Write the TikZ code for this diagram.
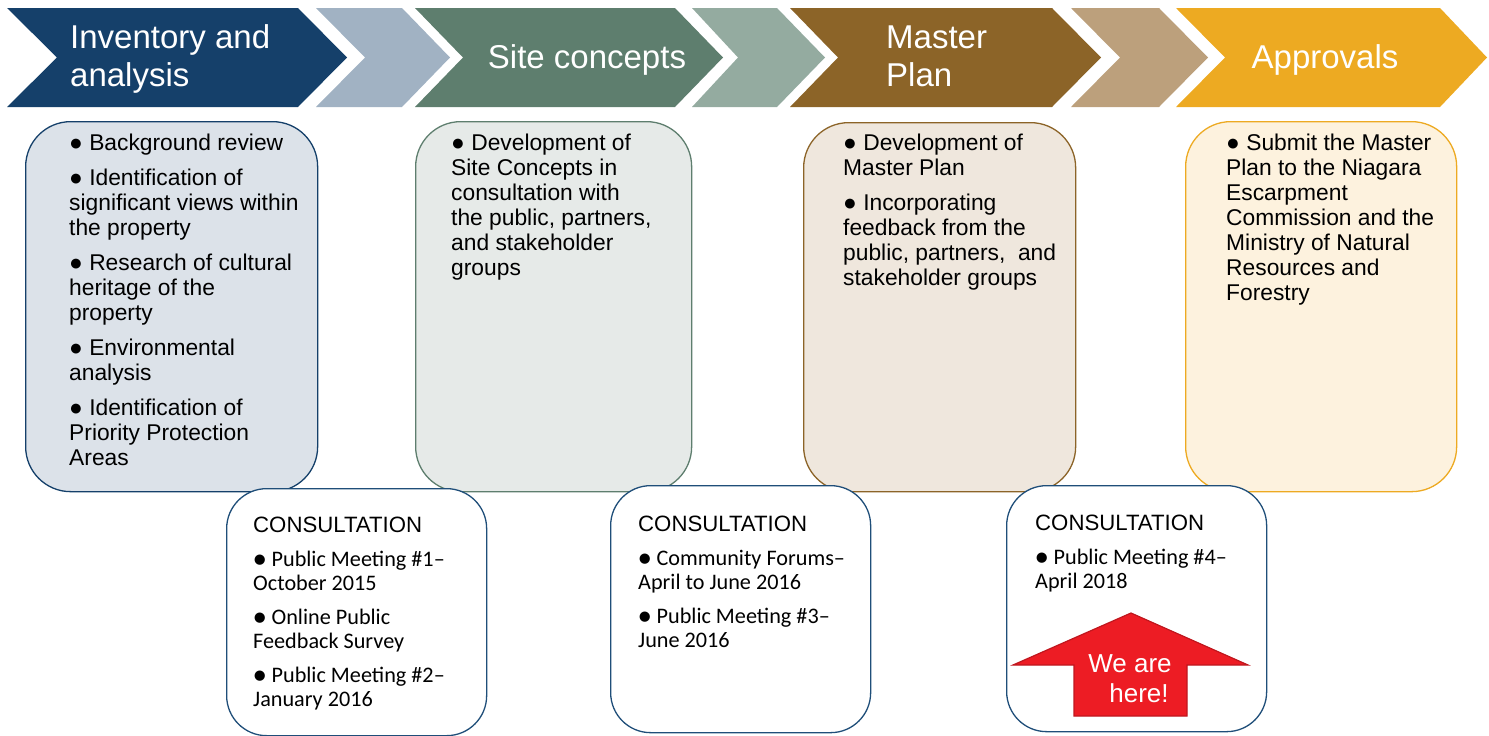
\documentclass[tikz,border=0pt]{standalone}
\usepackage{fontspec}
\setmainfont{Liberation Sans}
\newfontfamily\calib{Carlito}
\definecolor{cblue}{HTML}{15406A}
\definecolor{lblue}{HTML}{A1B2C3}
\definecolor{cgreen}{HTML}{5E7E6E}
\definecolor{lgreen}{HTML}{94ABA0}
\definecolor{cbrown}{HTML}{8C6428}
\definecolor{lbrown}{HTML}{BCA07C}
\definecolor{cgold}{HTML}{EDAA22}
\definecolor{fblue}{HTML}{DCE2E9}
\definecolor{fgreen}{HTML}{E6EAE8}
\definecolor{fbrown}{HTML}{EFE7DD}
\definecolor{fgold}{HTML}{FDF2DE}
\definecolor{conb}{HTML}{1F4E79}
\definecolor{cred}{HTML}{ED1C24}
\definecolor{dred}{HTML}{C0171E}
\begin{document}
\begin{tikzpicture}[x=1pt,y=-1pt,
  hdr/.style={inner sep=0, text=white, font=\fontsize{33}{38}\selectfont},
  bodybox/.style={rounded corners=45, line width=1.3, minimum width=#1, anchor=north west, inner sep=0},
  bodytxt/.style={anchor=north west, inner sep=0, align=left, font=\fontsize{22.8}{25}\selectfont},
  conbox/.style={draw=conb, fill=white, rounded corners=40, line width=1.3, minimum width=260, anchor=north west, inner sep=0},
  contitle/.style={anchor=base west, inner sep=0, font=\fontsize{22.2}{25}\selectfont},
  contxt/.style={anchor=north west, inner sep=0, align=left, font=\calib\fontsize{22.2}{24}\selectfont},
  heretxt/.style={inner sep=0, text=white, font=\fontsize{26}{30}\selectfont}
]
\useasboundingbox (0,0) rectangle (1489,736);
% chevrons
\fill[cblue]  (7,8) -- (298,8) -- (347,57.5) -- (298,107) -- (7,107) -- (57,57.5) -- cycle;
\fill[lblue]  (316,8) -- (402,8) -- (450,57.5) -- (402,107) -- (316,107) -- (365,57.5) -- cycle;
\fill[cgreen] (415,8) -- (675,8) -- (723,57.5) -- (675,107) -- (415,107) -- (463,57.5) -- cycle;
\fill[lgreen] (692,8) -- (777,8) -- (825,57.5) -- (777,107) -- (692,107) -- (738,57.5) -- cycle;
\fill[cbrown] (790,8) -- (1052,8) -- (1101,57.5) -- (1052,107) -- (790,107) -- (838,57.5) -- cycle;
\fill[lbrown] (1071,8) -- (1159,8) -- (1208,57.5) -- (1159,107) -- (1071,107) -- (1120,57.5) -- cycle;
\fill[cgold]  (1176,8) -- (1440,8) -- (1487,57.5) -- (1440,107) -- (1176,107) -- (1225,57.5) -- cycle;
% header texts
\node[hdr, anchor=base west] (h1a) at (70,48) {Inventory and};
\node[hdr, anchor=base west] (h1b) at (70,86) {analysis};
\node[hdr, anchor=base] (h2) at (587,68) {Site concepts};
\node[hdr, anchor=base west] (h3a) at (886,48) {Master};
\node[hdr, anchor=base west] (h3b) at (886,86) {Plan};
\node[hdr, anchor=base] (h4) at (1325,68) {Approvals};
% main boxes
\node[bodybox=292, draw=cblue, fill=fblue, minimum height=370] (b1) at (25,121) {};
\node[bodybox=276, draw=cgreen, fill=fgreen, minimum height=370] (b2) at (415,121) {};
\node[bodybox=272, draw=cbrown, fill=fbrown, minimum height=369] (b3) at (803,122) {};
\node[bodybox=271, draw=cgold, fill=fgold, minimum height=370] (b4) at (1185,121) {};
\node[bodytxt] (t1) at (69,134) {● Background review\\[10pt]● Identification of\\significant views within\\the property\\[9.5pt]● Research of cultural\\heritage of the\\property\\[10pt]● Environmental\\analysis\\[10pt]● Identification of\\Priority Protection\\Areas};
\node[bodytxt] (t2) at (451,134) {● Development of\\Site Concepts in\\consultation with\\the public, partners,\\and stakeholder\\groups};
\node[bodytxt] (t3) at (843,134) {● Development of\\Master Plan\\[10pt]● Incorporating\\feedback from the\\public, partners,~ and\\stakeholder groups};
\node[bodytxt] (t4) at (1226,134) {● Submit the Master\\Plan to the Niagara\\Escarpment\\Commission and the\\Ministry of Natural\\Resources and\\Forestry};
% consultation boxes
\node[conbox, minimum height=247] (c1) at (226,488) {};
\node[conbox, minimum height=247] (c2) at (610,485) {};
\node[conbox, minimum height=246] (c3) at (1006,485) {};
\node[contitle] (ct1) at (253,532) {CONSULTATION};
\node[contitle] (ct2) at (638,531) {CONSULTATION};
\node[contitle] (ct3) at (1035,530) {CONSULTATION};
\node[contxt] (ci1) at (253,551) {● Public Meeting \#1–\\October 2015\\[10pt]● Online Public\\Feedback Survey\\[10pt]● Public Meeting \#2–\\January 2016};
\node[contxt] (ci2) at (638,550) {● Community Forums–\\April to June 2016\\[10pt]● Public Meeting \#3–\\June 2016};
\node[contxt] (ci3) at (1035,549) {● Public Meeting \#4–\\April 2018};
% we are here arrow
\filldraw[fill=cred, draw=dred, line width=1.2] (1131,613) -- (1248,665) -- (1187,665) -- (1187,716) -- (1074,716) -- (1074,665) -- (1013,665) -- cycle;
\node[heretxt, anchor=base] (w1) at (1130,672) {We are};
\node[heretxt, anchor=base] (w2) at (1139,702) {here!};
\end{tikzpicture}
\end{document}
